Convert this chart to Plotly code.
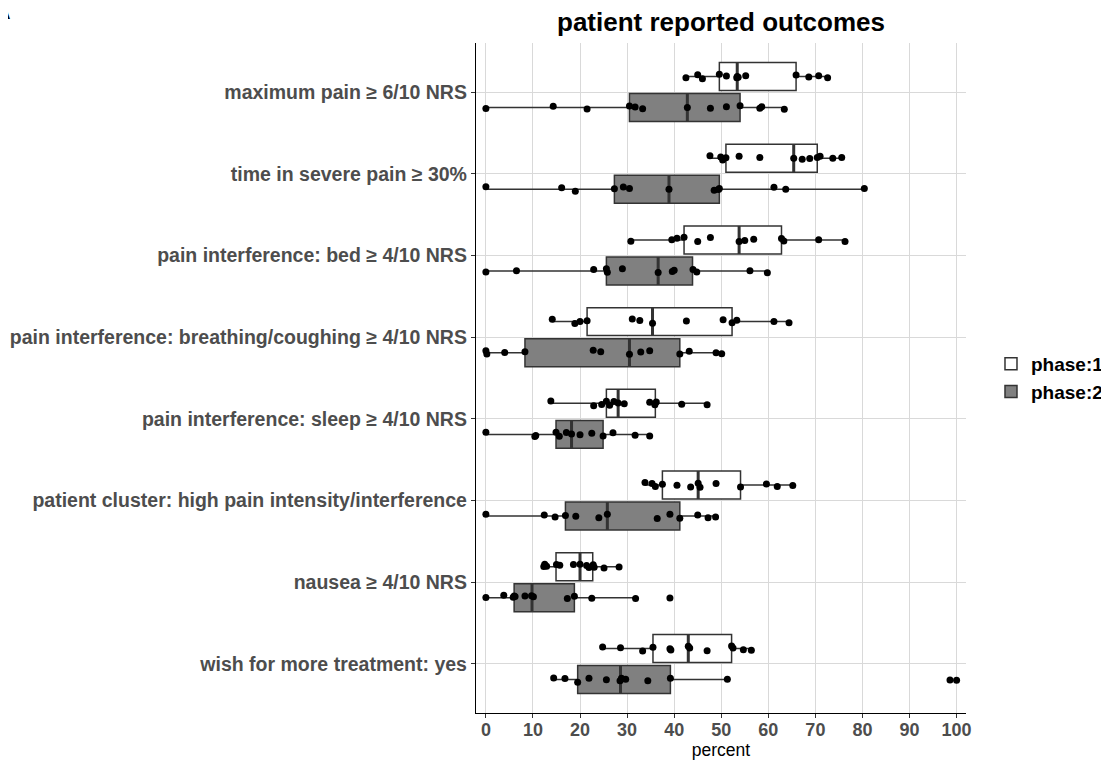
import plotly.graph_objects as go

categories = [
    "maximum pain ≥ 6/10 NRS",
    "time in severe pain ≥ 30%",
    "pain interference: bed ≥ 4/10 NRS",
    "pain interference: breathing/coughing ≥ 4/10 NRS",
    "pain interference: sleep ≥ 4/10 NRS",
    "patient cluster: high pain intensity/interference",
    "nausea ≥ 4/10 NRS",
    "wish for more treatment: yes",
]

phase1_points = [
    [42.5, 45.0, 46.0, 49.6, 51.1, 53.3, 53.4, 53.6, 55.2, 65.9, 68.6, 70.7, 72.6],
    [47.6, 49.9, 50.3, 51.0, 53.8, 58.2, 65.4, 67.2, 68.8, 70.4, 71.0, 73.7, 75.6],
    [30.8, 39.5, 40.6, 42.1, 45.0, 47.7, 53.8, 55.0, 56.9, 62.8, 63.3, 70.7, 76.3],
    [14.1, 18.9, 20.0, 21.5, 31.1, 32.7, 35.4, 42.6, 50.4, 52.3, 53.3, 61.2, 64.4],
    [13.8, 22.9, 24.6, 25.6, 26.3, 27.2, 28.1, 29.4, 34.8, 35.9, 36.2, 41.6, 47.0],
    [33.8, 35.3, 36.0, 37.5, 40.6, 43.5, 45.1, 45.5, 48.9, 54.1, 59.6, 61.9, 65.2],
    [12.3, 12.5, 12.9, 15.0, 15.7, 18.6, 20.0, 21.4, 21.9, 22.8, 23.0, 25.1, 28.3],
    [24.8, 28.6, 33.3, 35.5, 39.1, 39.3, 43.0, 43.3, 47.0, 52.2, 52.5, 54.7, 56.4],
]
phase2_points = [
    [0.0, 14.3, 21.5, 30.5, 31.7, 33.3, 42.8, 47.7, 51.1, 54.0, 58.2, 58.6, 63.4],
    [0.0, 16.1, 19.0, 27.3, 29.2, 30.5, 38.9, 48.5, 49.4, 49.6, 61.2, 63.7, 80.4],
    [0.0, 6.5, 22.9, 25.6, 25.8, 29.0, 36.6, 39.6, 40.0, 44.0, 44.8, 56.1, 59.8],
    [0.0, 0.2, 4.0, 8.3, 22.8, 24.4, 30.5, 32.9, 34.8, 41.2, 43.2, 48.9, 50.1],
    [0.0, 10.4, 10.6, 14.9, 15.6, 17.1, 18.2, 20.0, 22.5, 24.9, 27.0, 31.7, 34.8],
    [0.0, 12.4, 14.7, 16.9, 19.1, 24.0, 25.8, 36.4, 39.1, 41.2, 45.0, 47.2, 48.8],
    [0.0, 3.8, 5.8, 6.0, 6.2, 8.3, 9.7, 10.1, 17.3, 18.8, 22.5, 31.8, 39.1],
    [14.4, 16.8, 19.5, 21.9, 25.6, 28.5, 28.8, 29.7, 34.4, 39.2, 51.3, 98.6, 100.0],
]

# box statistics as drawn in the picture
phase1_q1 = [49.6, 51.0, 42.1, 21.5, 25.6, 37.5, 14.9, 35.5]
phase1_med = [53.4, 65.4, 53.8, 35.4, 28.1, 45.1, 20.0, 43.0]
phase1_q3 = [65.9, 70.4, 62.8, 52.3, 36.0, 54.1, 22.7, 52.2]
phase1_lo = [42.5, 47.6, 30.8, 14.1, 13.8, 33.8, 12.3, 24.8]
phase1_hi = [72.6, 75.6, 76.3, 64.4, 47.0, 65.2, 28.3, 56.4]

phase2_q1 = [30.5, 27.3, 25.6, 8.3, 14.9, 16.9, 6.0, 19.5]
phase2_med = [42.8, 38.9, 36.6, 30.5, 18.2, 25.8, 9.8, 28.6]
phase2_q3 = [54.0, 49.6, 43.9, 41.2, 24.9, 41.2, 18.8, 39.2]
phase2_lo = [0.0, 0.0, 0.0, 0.0, 0.0, 0.0, 0.0, 14.4]
phase2_hi = [63.4, 80.4, 59.8, 50.1, 34.8, 48.8, 31.8, 51.3]

x_ticks = [0, 10, 20, 30, 40, 50, 60, 70, 80, 90, 100]

phases = [
    ("phase:1", "1", "#ffffff", phase1_points, phase1_q1, phase1_med, phase1_q3, phase1_lo, phase1_hi),
    ("phase:2", "2", "#808080", phase2_points, phase2_q1, phase2_med, phase2_q3, phase2_lo, phase2_hi),
]

LINE = "#333333"
fig = go.Figure()

for name, grp, fill, pts, q1, med, q3, lo, hi in phases:
    # box with whiskers
    fig.add_trace(go.Box(
        orientation="h", y=categories, q1=q1, median=med, q3=q3,
        lowerfence=lo, upperfence=hi, name=name, legendgroup=name,
        offsetgroup=grp, fillcolor=fill, line=dict(color=LINE, width=1.5),
        whiskerwidth=0, boxpoints=False, showlegend=True,
    ))
    # thicker median line
    fig.add_trace(go.Box(
        orientation="h", y=categories, q1=med, median=med, q3=med,
        lowerfence=med, upperfence=med, name=name, legendgroup=name,
        offsetgroup=grp, fillcolor="rgba(0,0,0,0)", line=dict(color=LINE, width=3),
        whiskerwidth=0, boxpoints=False, showlegend=False, hoverinfo="skip",
    ))
    # jittered points
    xs, ys = [], []
    for cat, vals in zip(categories, pts):
        xs.extend(vals)
        ys.extend([cat] * len(vals))
    fig.add_trace(go.Box(
        orientation="h", x=xs, y=ys, name=name, legendgroup=name,
        offsetgroup=grp, fillcolor="rgba(0,0,0,0)", line=dict(color="rgba(0,0,0,0)", width=0),
        whiskerwidth=0, boxpoints="all", jitter=0.2, pointpos=0,
        marker=dict(color="black", size=7), showlegend=False,
    ))

# the page body adds an 8px offset; the figure is sized so the plot lands where the reference has it
W, H = 1101, 756
ML, MR, MT, MB = 468, 143, 35, 51
PW, PH = W - ML - MR, H - MT - MB

fig.update_layout(
    width=W, height=H,
    margin=dict(l=ML, r=MR, t=MT, b=MB, autoexpand=False),
    paper_bgcolor="white", plot_bgcolor="white",
    boxmode="group", boxgap=0.24, boxgroupgap=0.1,
    font=dict(family="Liberation Sans, Arial, sans-serif"),
    title=dict(text="patient reported outcomes", x=(ML + PW / 2) / W, xanchor="center",
               y=1 - 14 / H, yanchor="middle",
               font=dict(size=26, color="black", weight="bold")),
    legend=dict(x=1.051, xanchor="left", y=0.5, yanchor="middle",
                font=dict(size=19, color="black", weight="bold"),
                traceorder="normal", bgcolor="rgba(0,0,0,0)", tracegroupgap=0),
    showlegend=True,
)

fig.update_xaxes(
    range=[-2.1, 102.0], tickvals=x_ticks, ticktext=[str(t) for t in x_ticks],
    showgrid=True, gridcolor="#d9d9d9", gridwidth=1.3, zeroline=False,
    showline=True, linecolor="black", linewidth=1.3,
    ticks="outside", ticklen=4, tickcolor="#333333", tickwidth=1.2,
    ticklabelstandoff=-4,
    tickfont=dict(size=18, color="#4d4d4d", weight="bold"),
    title=dict(text="percent", font=dict(size=17.5, color="black"), standoff=2),
)
fig.update_yaxes(
    type="category", categoryorder="array", categoryarray=categories,
    range=[7.6, -0.6],
    showgrid=True, gridcolor="#d9d9d9", gridwidth=1.3, zeroline=False,
    showline=True, linecolor="black", linewidth=1.3,
    ticks="outside", ticklen=4, tickcolor="#333333", tickwidth=1.2,
    tickfont=dict(size=19.5, color="#4d4d4d", weight="bold"),
)

fig.add_annotation(text="A", xref="paper", yref="paper",
                   x=(4 - ML) / PW, xanchor="right", y=1 + (MT - 17) / PH, yanchor="bottom",
                   showarrow=False, font=dict(size=20, color="black", weight="bold"))

fig.write_html("out.html")
